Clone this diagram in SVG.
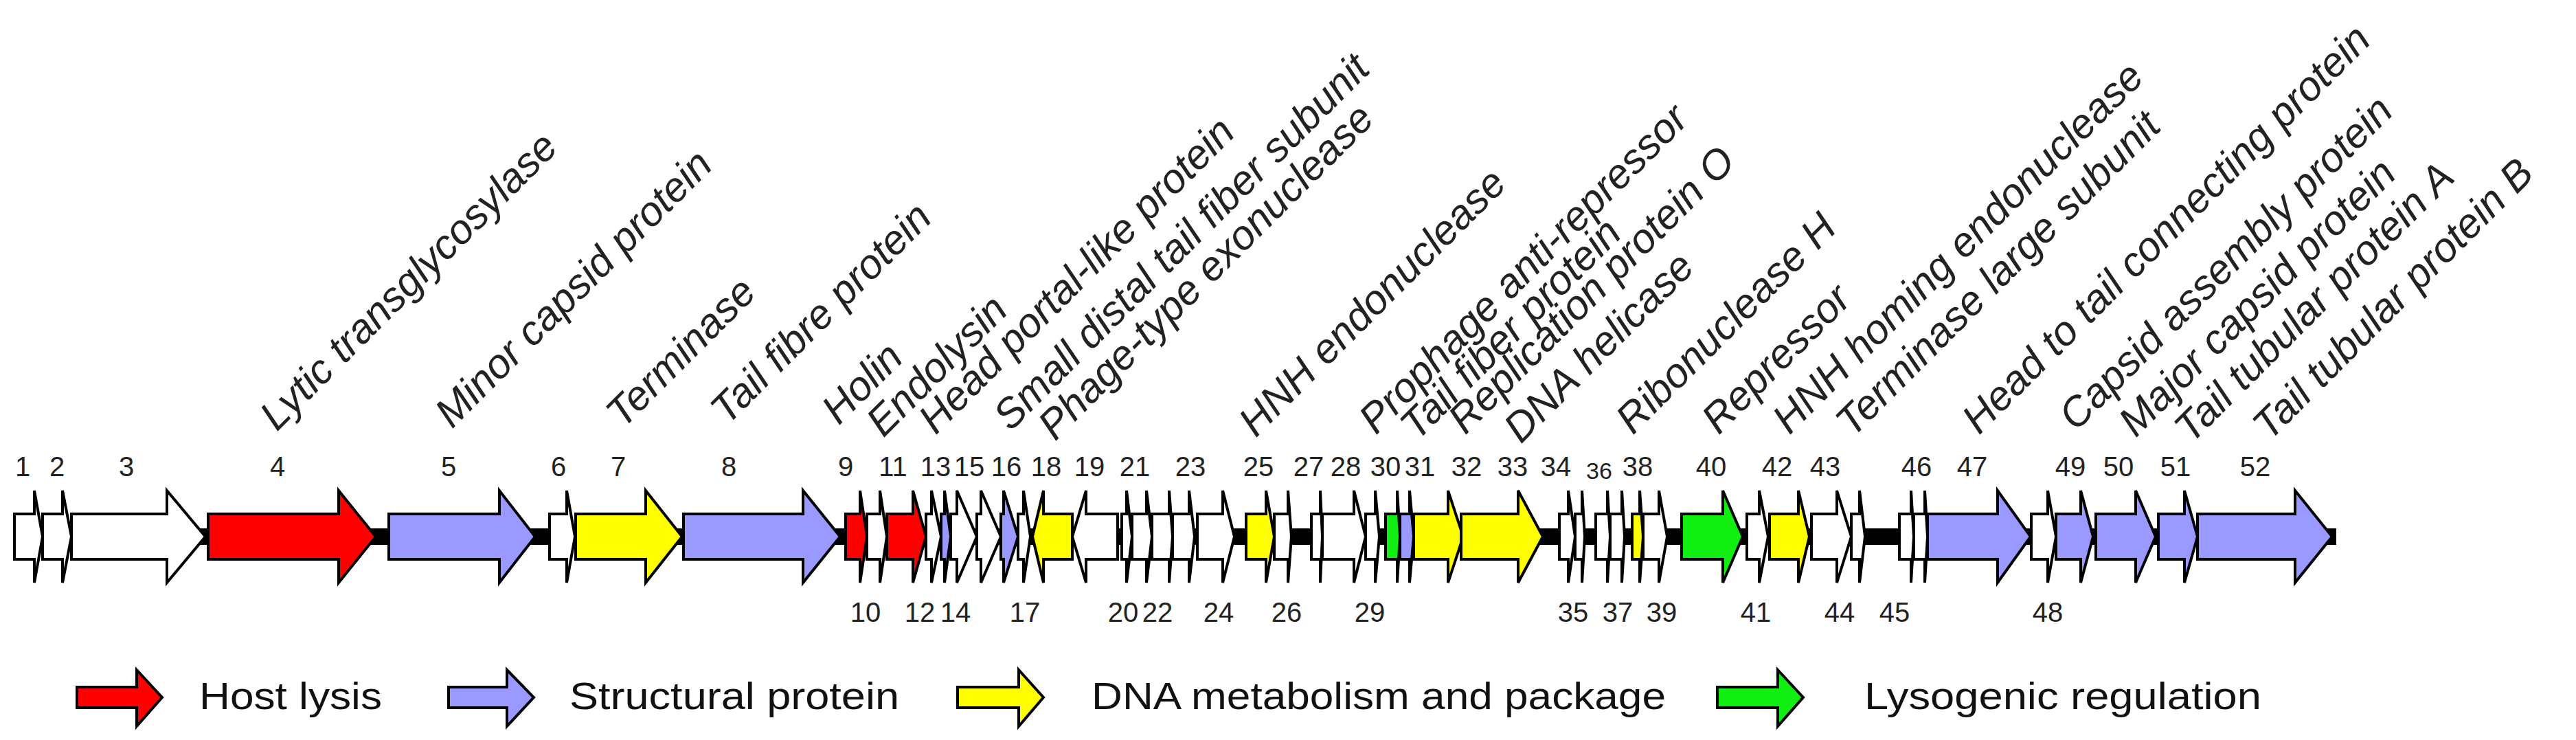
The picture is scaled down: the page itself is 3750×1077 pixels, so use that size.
<svg xmlns="http://www.w3.org/2000/svg" width="3750" height="1077" viewBox="0 0 3750 1077">
<style>
.g{stroke:#000;stroke-width:4;stroke-linejoin:miter}
.w{fill:#fff}.r{fill:#ff0000}.b{fill:#9999ff}.y{fill:#ffff00}.gr{fill:#11ee11}
.n{font-family:"Liberation Sans",Arial,sans-serif;font-size:40px;fill:#222;text-anchor:middle}
.l{font-family:"Liberation Sans",Arial,sans-serif;font-size:60px;font-style:italic;fill:#222}
.lg{font-family:"Liberation Sans",Arial,sans-serif;font-size:56px;fill:#111}
</style>
<g id="connectors"><rect x="21" y="769" width="3380" height="24" fill="#000"/></g>
<g id="genes">
<path class="g w" d="M21,748L50,748L50,714L62,781L50,848L50,814L21,814Z"/>
<path class="g w" d="M62,748L91,748L91,714L104,781L91,848L91,814L62,814Z"/>
<path class="g w" d="M104,748L243,748L243,714L299,781L243,848L243,814L104,814Z"/>
<path class="g r" d="M303,748L493,748L493,714L547,781L493,848L493,814L303,814Z"/>
<path class="g b" d="M566,748L727,748L727,714L779,781L727,848L727,814L566,814Z"/>
<path class="g w" d="M800,748L825,748L825,714L837,781L825,848L825,814L800,814Z"/>
<path class="g y" d="M838,748L940,748L940,714L993,781L940,848L940,814L838,814Z"/>
<path class="g b" d="M995,748L1169,748L1169,714L1223,781L1169,848L1169,814L995,814Z"/>
<path class="g r" d="M1231,748L1252,748L1252,714L1262,781L1252,848L1252,814L1231,814Z"/>
<path class="g w" d="M1262,748L1281,748L1281,714L1291,781L1281,848L1281,814L1262,814Z"/>
<path class="g r" d="M1291,748L1329,748L1329,714L1348,781L1329,848L1329,814L1291,814Z"/>
<path class="g w" d="M1348,748L1356,748L1356,714L1370,781L1356,848L1356,814L1348,814Z"/>
<path class="g b" d="M1370,748L1375,748L1375,714L1384,781L1375,848L1375,814L1370,814Z"/>
<path class="g w" d="M1384,748L1393,748L1393,714L1422,781L1393,848L1393,814L1384,814Z"/>
<path class="g w" d="M1422,748L1428,748L1428,714L1457,781L1428,848L1428,814L1422,814Z"/>
<path class="g b" d="M1457,748L1461,748L1461,714L1482,781L1461,848L1461,814L1457,814Z"/>
<path class="g w" d="M1482,748L1490,748L1490,714L1500,781L1490,848L1490,814L1482,814Z"/>
<path class="g y" d="M1561,748L1519,748L1519,714L1503,781L1519,848L1519,814L1561,814Z"/>
<path class="g w" d="M1627,748L1581,748L1581,714L1561,781L1581,848L1581,814L1627,814Z"/>
<path class="g w" d="M1633,748L1640,748L1640,714L1648,781L1640,848L1640,814L1633,814Z"/>
<path class="g w" d="M1648,748L1669,748L1669,714L1677,781L1669,848L1669,814L1648,814Z"/>
<path class="g w" d="M1677,748L1702,748L1702,714L1707,781L1702,848L1702,814L1677,814Z"/>
<path class="g w" d="M1707,748L1731,748L1731,714L1739,781L1731,848L1731,814L1707,814Z"/>
<path class="g w" d="M1743,748L1780,748L1780,714L1797,781L1780,848L1780,814L1743,814Z"/>
<path class="g y" d="M1814,748L1843,748L1843,714L1855,781L1843,848L1843,814L1814,814Z"/>
<path class="g w" d="M1855,748L1875,748L1875,714L1880,781L1875,848L1875,814L1855,814Z"/>
<path class="g w" d="M1909,748L1922,748L1922,714L1925,781L1922,848L1922,814L1909,814Z"/>
<path class="g w" d="M1925,748L1971,748L1971,714L1988,781L1971,848L1971,814L1925,814Z"/>
<path class="g w" d="M1988,748L2002,748L2002,714L2008,781L2002,848L2002,814L1988,814Z"/>
<path class="g gr" d="M2017,748L2034,748L2034,714L2038,781L2034,848L2034,814L2017,814Z"/>
<path class="g b" d="M2038,748L2052,748L2052,714L2058,781L2052,848L2052,814L2038,814Z"/>
<path class="g y" d="M2058,748L2108,748L2108,714L2130,781L2108,848L2108,814L2058,814Z"/>
<path class="g y" d="M2127,748L2210,748L2210,714L2246,781L2210,848L2210,814L2127,814Z"/>
<path class="g w" d="M2270,748L2283,748L2283,714L2293,781L2283,848L2283,814L2270,814Z"/>
<path class="g w" d="M2293,748L2303,748L2303,714L2307,781L2303,848L2303,814L2293,814Z"/>
<path class="g w" d="M2323,748L2340,748L2340,714L2344,781L2340,848L2340,814L2323,814Z"/>
<path class="g w" d="M2344,748L2361,748L2361,714L2365,781L2361,848L2361,814L2344,814Z"/>
<path class="g y" d="M2376,748L2387,748L2387,714L2392,781L2387,848L2387,814L2376,814Z"/>
<path class="g w" d="M2392,748L2415,748L2415,714L2427,781L2415,848L2415,814L2392,814Z"/>
<path class="g gr" d="M2448,748L2508,748L2508,714L2537,781L2508,848L2508,814L2448,814Z"/>
<path class="g w" d="M2543,748L2561,748L2561,714L2574,781L2561,848L2561,814L2543,814Z"/>
<path class="g y" d="M2576,748L2618,748L2618,714L2634,781L2618,848L2618,814L2576,814Z"/>
<path class="g w" d="M2637,748L2674,748L2674,714L2695,781L2674,848L2674,814L2637,814Z"/>
<path class="g w" d="M2695,748L2707,748L2707,714L2715,781L2707,848L2707,814L2695,814Z"/>
<path class="g w" d="M2765,748L2782,748L2782,714L2786,781L2782,848L2782,814L2765,814Z"/>
<path class="g w" d="M2786,748L2802,748L2802,714L2806,781L2802,848L2802,814L2786,814Z"/>
<path class="g b" d="M2806,748L2908,748L2908,714L2956,781L2908,848L2908,814L2806,814Z"/>
<path class="g w" d="M2957,748L2981,748L2981,714L2993,781L2981,848L2981,814L2957,814Z"/>
<path class="g b" d="M2993,748L3029,748L3029,714L3047,781L3029,848L3029,814L2993,814Z"/>
<path class="g b" d="M3051,748L3109,748L3109,714L3138,781L3109,848L3109,814L3051,814Z"/>
<path class="g b" d="M3142,748L3180,748L3180,714L3199,781L3180,848L3180,814L3142,814Z"/>
<path class="g b" d="M3199,748L3341,748L3341,714L3395,781L3341,848L3341,814L3199,814Z"/>
</g>
<g id="numbers">
<text class="n" x="33" y="693">1</text><text class="n" x="83" y="693">2</text><text class="n" x="184" y="693">3</text><text class="n" x="404" y="693">4</text><text class="n" x="653" y="693">5</text><text class="n" x="813" y="693">6</text><text class="n" x="900" y="693">7</text><text class="n" x="1061" y="693">8</text><text class="n" x="1231" y="693">9</text>
<text class="n" x="1300" y="693">11</text><text class="n" x="1362" y="693">13</text><text class="n" x="1411" y="693">15</text><text class="n" x="1465" y="693">16</text><text class="n" x="1523" y="693">18</text><text class="n" x="1586" y="693">19</text><text class="n" x="1652" y="693">21</text><text class="n" x="1733" y="693">23</text><text class="n" x="1832" y="693">25</text><text class="n" x="1905" y="693">27</text><text class="n" x="1959" y="693">28</text><text class="n" x="2017" y="693">30</text><text class="n" x="2067" y="693">31</text><text class="n" x="2135" y="693">32</text><text class="n" x="2202" y="693">33</text><text class="n" x="2265" y="693">34</text><text class="n" x="2328" y="697" style="font-size:34px">36</text><text class="n" x="2384" y="693">38</text>
<text class="n" x="2491" y="693">40</text><text class="n" x="2587" y="693">42</text><text class="n" x="2657" y="693">43</text><text class="n" x="2790" y="693">46</text><text class="n" x="2871" y="693">47</text><text class="n" x="3014" y="693">49</text><text class="n" x="3084" y="693">50</text><text class="n" x="3167" y="693">51</text><text class="n" x="3283" y="693">52</text>
<text class="n" x="1260" y="905">10</text><text class="n" x="1339" y="905">12</text><text class="n" x="1391" y="905">14</text><text class="n" x="1492" y="905">17</text><text class="n" x="1635" y="905">20</text><text class="n" x="1685" y="905">22</text><text class="n" x="1774" y="905">24</text><text class="n" x="1873" y="905">26</text><text class="n" x="1994" y="905">29</text><text class="n" x="2290" y="905">35</text><text class="n" x="2355" y="905">37</text><text class="n" x="2419" y="905">39</text><text class="n" x="2556" y="905">41</text><text class="n" x="2678" y="905">44</text><text class="n" x="2758" y="905">45</text><text class="n" x="2981" y="905">48</text>
</g>
<g id="labels">
<text class="l" transform="translate(403,629) rotate(-45)">Lytic  transglycosylase</text>
<text class="l" transform="translate(658,625) rotate(-45)">Minor capsid protein</text>
<text class="l" transform="translate(907,625) rotate(-45)">Terminase</text>
<text class="l" transform="translate(1059,620) rotate(-45)">Tail fibre protein</text>
<text class="l" transform="translate(1221,620) rotate(-45)">Holin</text>
<text class="l" transform="translate(1286,638) rotate(-45)">Endolysin</text>
<text class="l" transform="translate(1362,634) rotate(-45)">Head portal-like protein</text>
<text class="l" transform="translate(1471,629) rotate(-45)">Small distal tail fiber subunit</text>
<text class="l" transform="translate(1536,643) rotate(-45)">Phage-type exonuclease</text>
<text class="l" transform="translate(1828,638) rotate(-45)">HNH endonuclease</text>
<text class="l" transform="translate(2003,634) rotate(-45)">Prophage anti-repressor</text>
<text class="l" transform="translate(2063,643) rotate(-45)">Tail fiber protein</text>
<text class="l" transform="translate(2133,634) rotate(-45)">Replication protein O</text>
<text class="l" transform="translate(2214,647) rotate(-45)">DNA helicase</text>
<text class="l" transform="translate(2377,634) rotate(-45)">Ribonuclease H</text>
<text class="l" transform="translate(2502,634) rotate(-45)">Repressor</text>
<text class="l" transform="translate(2605,634) rotate(-45)">HNH homing endonuclease</text>
<text class="l" transform="translate(2697,638) rotate(-45)">Terminase large subunit</text>
<text class="l" transform="translate(2881,634) rotate(-45)">Head to tail connecting protein</text>
<text class="l" transform="translate(3022,629) rotate(-45)">Capsid assembly protein</text>
<text class="l" transform="translate(3109,638) rotate(-45)">Major capsid protein</text>
<text class="l" transform="translate(3190,647) rotate(-45)">Tail tubular protein A</text>
<text class="l" transform="translate(3304,643) rotate(-45)">Tail tubular protein B</text>
</g>
<g id="legend">
<path class="g r" d="M112,1000L199,1000L199,975L236,1015L199,1057L199,1030L112,1030Z"/>
<text class="lg" x="290" y="1032" textLength="266" lengthAdjust="spacingAndGlyphs">Host lysis</text>
<path class="g b" d="M653,1000L738,1000L738,975L777,1015L738,1057L738,1030L653,1030Z"/>
<text class="lg" x="829" y="1032" textLength="480" lengthAdjust="spacingAndGlyphs">Structural protein</text>
<path class="g y" d="M1394,1000L1483,1000L1483,975L1519,1015L1483,1057L1483,1030L1394,1030Z"/>
<text class="lg" x="1589" y="1032" textLength="836" lengthAdjust="spacingAndGlyphs">DNA metabolism and package</text>
<path class="g gr" d="M2500,1000L2588,1000L2588,975L2625,1015L2588,1057L2588,1030L2500,1030Z"/>
<text class="lg" x="2714" y="1032" textLength="578" lengthAdjust="spacingAndGlyphs">Lysogenic regulation</text>
</g>
</svg>
